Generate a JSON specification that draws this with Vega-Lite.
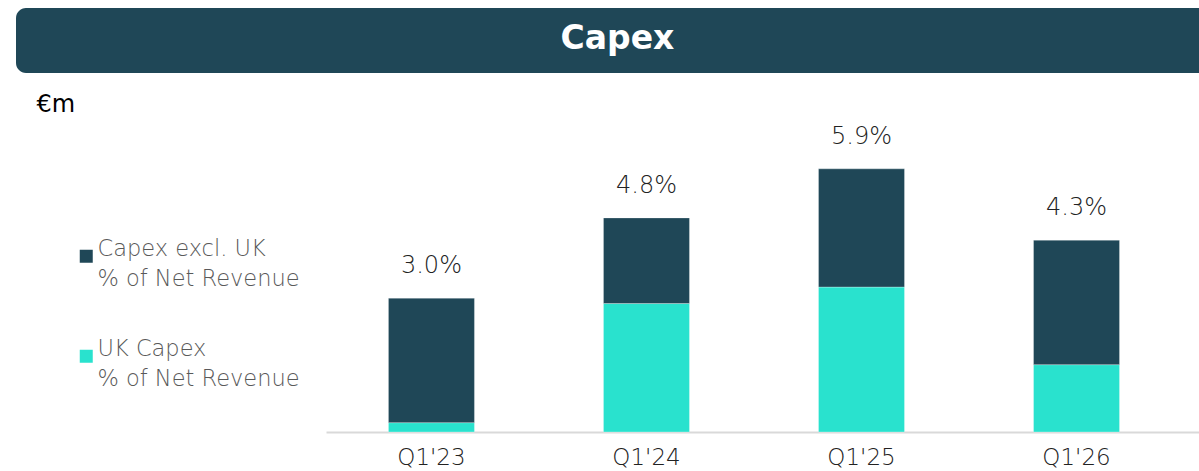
{
  "$schema": "https://vega.github.io/schema/vega-lite/v6.json",
  "padding": {"left": 16, "top": 8, "right": 0, "bottom": 0},
  "autosize": {"type": "pad"},
  "background": "white",
  "bounds": "flush",
  "spacing": 20,
  "config": {
    "view": {"stroke": null},
    "style": {"guide-label": {"lineHeight": 30}}
  },
  "vconcat": [
    {
      "width": 1183,
      "height": 65,
      "data": {"values": [{"title": "Capex"}]},
      "layer": [
        {
          "mark": {"type": "rect", "color": "#1f4757", "cornerRadiusTopLeft": 10, "cornerRadiusBottomLeft": 10},
          "encoding": {}
        },
        {
          "mark": {"type": "text", "font": "DejaVu Sans", "fontWeight": "bold", "fontSize": 33, "color": "#ffffff", "align": "center", "baseline": "middle", "dx": 10, "dy": -2},
          "encoding": {"text": {"field": "title"}}
        }
      ]
    },
    {
      "width": 1183,
      "height": 339,
      "data": {
        "values": [
          {"quarter": "Q1'23", "series": "UK Capex", "value": 0.0021},
          {"quarter": "Q1'23", "series": "Capex excl. UK", "value": 0.0279},
          {"quarter": "Q1'24", "series": "UK Capex", "value": 0.0288},
          {"quarter": "Q1'24", "series": "Capex excl. UK", "value": 0.0192},
          {"quarter": "Q1'25", "series": "UK Capex", "value": 0.0325},
          {"quarter": "Q1'25", "series": "Capex excl. UK", "value": 0.0265},
          {"quarter": "Q1'26", "series": "UK Capex", "value": 0.0151},
          {"quarter": "Q1'26", "series": "Capex excl. UK", "value": 0.0279}
        ]
      },
      "encoding": {
        "x": {
          "field": "quarter",
          "type": "nominal",
          "scale": {"range": [310, 1183], "paddingInner": 0.6, "paddingOuter": 0.33, "align": 0.44},
          "axis": {
            "title": null,
            "labelAngle": 0,
            "ticks": false,
            "tickSize": 0,
            "labelPadding": 14,
            "labelFont": "DejaVu Sans",
            "labelFontWeight": 200,
            "labelFontSize": 23,
            "labelColor": "#222222",
            "domainColor": "#d9d9d9",
            "domainWidth": 2,
            "grid": false
          }
        }
      },
      "layer": [
        {
          "mark": {"type": "bar", "stroke": "#ffffff", "strokeWidth": 0.6, "strokeOpacity": 0.5},
          "encoding": {
            "y": {
              "field": "value",
              "type": "quantitative",
              "stack": "zero",
              "scale": {"domain": [0, 0.076], "nice": false},
              "axis": {
                "title": "€m",
                "titleAngle": 0,
                "titleAlign": "left",
                "titleBaseline": "alphabetic",
                "titleX": 20,
                "titleY": 18,
                "titleFont": "DejaVu Sans",
                "titleFontWeight": "normal",
                "titleFontSize": 24,
                "titleColor": "#000000",
                "labels": false,
                "ticks": false,
                "domain": false,
                "grid": false
              }
            },
            "color": {
              "field": "series",
              "type": "nominal",
              "scale": {"domain": ["Capex excl. UK", "UK Capex"], "range": ["#1f4757", "#29e2ce"]},
              "legend": {
                "orient": "none",
                "legendX": 59,
                "legendY": 237,
                "title": null,
                "symbolType": "square",
                "symbolSize": 169,
                "symbolStrokeWidth": 0,
                "labelFont": "DejaVu Sans",
                "labelFontWeight": 200,
                "labelFontSize": 22.5,
                "labelColor": "#595959",
                "labelOffset": 0,
                "labelLimit": 400,
                "rowPadding": 47,
                "labelBaseline": "alphabetic",
                "labelExpr": "[datum.label, '% of Net Revenue']"
              }
            },
            "order": {"field": "series", "sort": "descending"}
          }
        },
        {
          "mark": {"type": "text", "font": "DejaVu Sans", "fontWeight": 200, "fontSize": 24, "color": "#222222", "baseline": "alphabetic", "dy": -25},
          "encoding": {
            "y": {"aggregate": "sum", "field": "value", "type": "quantitative"},
            "text": {"aggregate": "sum", "field": "value", "type": "quantitative", "format": ".1%"}
          }
        }
      ]
    }
  ]
}
